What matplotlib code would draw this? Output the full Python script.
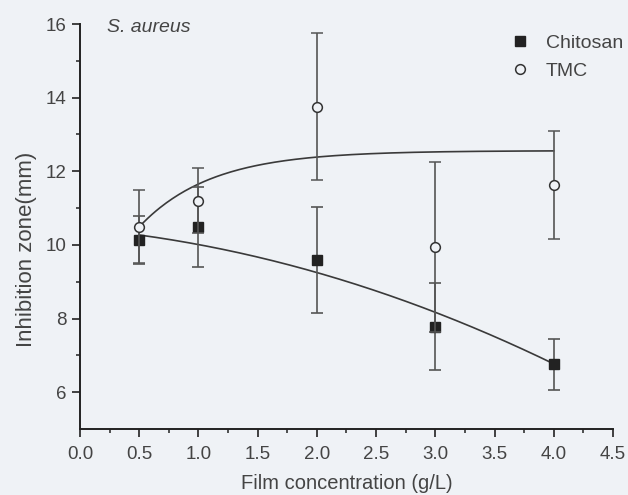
import numpy as np
import matplotlib
matplotlib.use("Agg")
import matplotlib.pyplot as plt
from matplotlib.lines import Line2D

plt.rcParams['font.family'] = ['Liberation Sans', 'DejaVu Sans']

# Data
conc = [0.5, 1.0, 2.0, 3.0, 4.0]
chitosan = [10.13, 10.48, 9.59, 7.78, 6.76]
chitosan_err = [0.65, 1.09, 1.44, 1.18, 0.69]
tmc = [10.50, 11.20, 13.75, 9.95, 11.63]
tmc_err = [1.00, 0.88, 2.00, 2.31, 1.47]

# Fitted model parameters (as drawn in the original figure)
chit_fit_coef = [-0.16, -0.28, 10.45]        # quadratic
tmc_fit_A, tmc_fit_B, tmc_fit_k = 12.56, 4.72, 1.65  # y = A - B*exp(-k x)

xticks = [0.0, 0.5, 1.0, 1.5, 2.0, 2.5, 3.0, 3.5, 4.0, 4.5]
yticks = [6, 8, 10, 12, 14, 16]

bg = '#eff2f6'
txt = '#444444'
fig = plt.figure(figsize=(6.28, 4.95), dpi=100, facecolor=bg)
ax = fig.add_axes([0.1274, 0.1333, 0.8486, 0.8182], facecolor=bg)

xf = np.linspace(conc[0], conc[-1], 200)
ax.plot(xf, np.polyval(chit_fit_coef, xf), color='#3a3a3a', lw=1.2, zorder=2)
ax.plot(xf, tmc_fit_A - tmc_fit_B * np.exp(-tmc_fit_k * xf), color='#3a3a3a', lw=1.2, zorder=2)

ax.errorbar(conc, chitosan, yerr=chitosan_err, fmt='s', color='#555555', ecolor='#555555',
            mfc='#222222', mec='#222222', ms=6.5, elinewidth=1.2, capsize=4, capthick=1.2,
            zorder=3)
ax.errorbar(conc, tmc, yerr=tmc_err, fmt='o', color='#555555', ecolor='#555555',
            mfc=bg, mec='#333333', ms=7, mew=1.1, elinewidth=1.2, capsize=4, capthick=1.2,
            zorder=4)

ax.set_xlim(0, 4.5)
ax.set_ylim(5, 16)
ax.set_xticks(xticks)
ax.set_xticklabels([f'{v:.1f}' for v in xticks])
ax.set_yticks(yticks)
ax.set_xticks(np.arange(0.25, 4.5, 0.5), minor=True)
ax.set_yticks([7, 9, 11, 13, 15], minor=True)

for s in ['top', 'right']:
    ax.spines[s].set_visible(False)
for s in ['left', 'bottom']:
    ax.spines[s].set_color('#222222')
    ax.spines[s].set_linewidth(1.4)

ax.tick_params(which='major', direction='out', length=5.5, width=1.2, colors='#222222',
               labelsize=13.5, labelcolor=txt)
ax.tick_params(axis='x', which='major', pad=7)
ax.tick_params(axis='y', which='major', pad=4)
ax.tick_params(which='minor', direction='out', length=3, width=1.1, colors='#222222')

ax.set_xlabel('Film concentration (g/L)', fontsize=14.5, color=txt, va='bottom')
ax.xaxis.set_label_coords(0.5, -0.158)
ax.set_ylabel('Inhibition zone(mm)', fontsize=16, color=txt)
ax.yaxis.set_label_coords(-0.08, 0.444)

ax.text(107 / 628, 1 - 27 / 495, 'S. aureus', transform=fig.transFigure, fontsize=14,
        style='italic', color=txt, va='center', ha='left')

handles = [Line2D([], [], ls='none', marker='s', ms=6.5, mfc='#222222', mec='#222222'),
           Line2D([], [], ls='none', marker='o', ms=7, mfc=bg, mec='#333333', mew=1.1)]
leg = fig.legend(handles, ['Chitosan', 'TMC'], loc='upper left',
                 bbox_to_anchor=(510 / 628, 1 - 34 / 495), frameon=False,
                 fontsize=14, handlelength=1.0, handletextpad=0.85, labelspacing=0.55,
                 borderpad=0, borderaxespad=0)
for t in leg.get_texts():
    t.set_color(txt)

fig.savefig('out.png', dpi=100, facecolor=bg)
